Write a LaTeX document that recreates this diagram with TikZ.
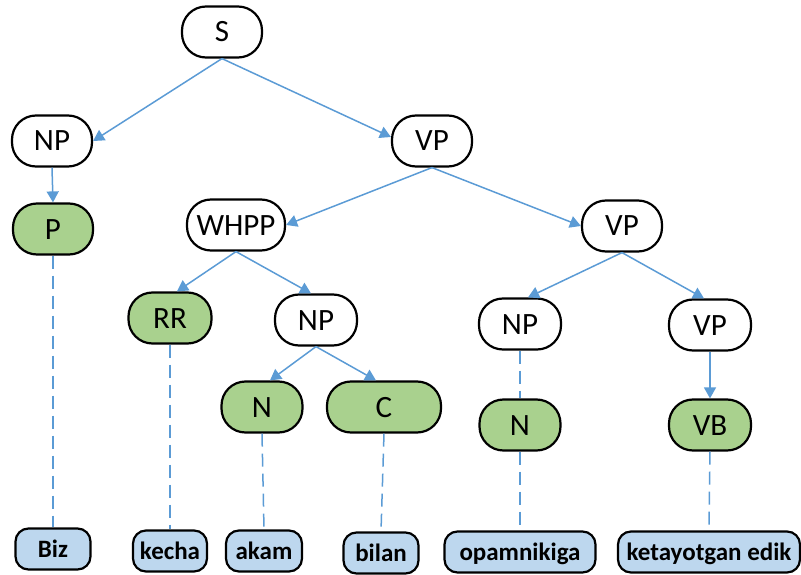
\documentclass[tikz,border=0pt]{standalone}
\usepackage{fontspec}
\setmainfont{Carlito}
\usetikzlibrary{arrows.meta,calc}
\definecolor{edgeblue}{HTML}{5B9BD5}
\definecolor{greenfill}{HTML}{A9D18E}
\definecolor{leaffill}{HTML}{BDD7EE}
\begin{document}
\begin{tikzpicture}[x=1pt,y=-1pt,
  phrase/.style={draw=black,line width=2.2pt,fill=white,rounded corners=24pt,minimum height=51pt,minimum width=80pt,inner sep=0pt,text height=20pt,text depth=-2pt,font=\fontsize{31}{33}\selectfont},
  tagbox/.style={phrase,fill=greenfill},
  leafbox/.style={draw=black,line width=2.2pt,fill=leaffill,rounded corners=13pt,minimum height=41pt,inner sep=0pt,text height=16pt,text depth=-2pt,font=\fontsize{25}{27}\selectfont\bfseries},
  arr/.style={draw=edgeblue,line width=1.5pt,-{Triangle[length=11pt,width=12pt]}},
  dashline/.style={draw=edgeblue,line width=1.5pt,dash pattern=on 13pt off 7pt}
]
\useasboundingbox (0,0) rectangle (801,575);
% phrase nodes
\node[phrase] (S) at (222,32) {S};
\node[phrase] (NPa) at (52,141) {NP};
\node[phrase] (VPa) at (432,141) {VP};
\node[phrase,minimum width=98pt] (WHPP) at (236,225) {WHPP};
\node[phrase] (VPb) at (622,226) {VP};
\node[phrase,minimum width=82pt] (NPb) at (316,320) {NP};
\node[phrase,minimum width=82pt] (NPc) at (520,324) {NP};
\node[phrase,minimum width=82pt] (VPc) at (710,325) {VP};
% tag nodes
\node[tagbox] (P) at (53,229) {P};
\node[tagbox,minimum width=83pt] (RR) at (170,318) {RR};
\node[tagbox,minimum width=81pt] (Na) at (262,407) {N};
\node[tagbox,minimum width=114pt] (C) at (384,407) {C};
\node[tagbox,minimum width=81pt] (Nb) at (520,425) {N};
\node[tagbox,minimum width=82pt] (VB) at (710,425) {VB};
% leaves
\node[leafbox,minimum width=75pt] (Biz) at (53,549) {Biz};
\node[leafbox,minimum width=74pt] (kecha) at (170,551) {kecha};
\node[leafbox,minimum width=76pt] (akam) at (264,551) {akam};
\node[leafbox,minimum width=75pt] (bilan) at (381,553) {bilan};
\node[leafbox,minimum width=151pt] (opam) at (520,552) {opamnikiga};
\node[leafbox,minimum width=182pt] (keta) at (709,552) {ketayotgan edik};
% arrows
\draw[arr] (S.south) -- (NPa.east);
\draw[arr] (S.south) -- ($(VPa.west)+(0,-4)$);
\draw[arr] (NPa.south) -- (P.north);
\draw[arr] (VPa.south) -- (WHPP.east);
\draw[arr] (VPa.south) -- (VPb.west);
\draw[arr] (WHPP.south) -- ($(RR.north)+(7,0)$);
\draw[arr] (WHPP.south) -- ($(NPb.north)+(-5,0)$);
\draw[arr] (NPb.south) -- ($(Na.north)+(8,0)$);
\draw[arr] (NPb.south) -- ($(C.north)+(-8,0)$);
\draw[arr] (VPb.south) -- ($(NPc.north)+(8,0)$);
\draw[arr] (VPb.south) -- ($(VPc.north)+(-6,0)$);
\draw[arr] (VPc.south) -- (VB.north);
% dashed links
\draw[dashline] (P.south) -- (Biz.north);
\draw[dashline] (RR.south) -- (kecha.north);
\draw[dashline] (Na.south) -- (akam.north);
\draw[dashline] (C.south) -- (bilan.north);
\draw[dashline] (NPc.south) -- (Nb.north);
\draw[dashline] (Nb.south) -- (opam.north);
\draw[dashline] (VB.south) -- (keta.north);
\end{tikzpicture}
\end{document}
